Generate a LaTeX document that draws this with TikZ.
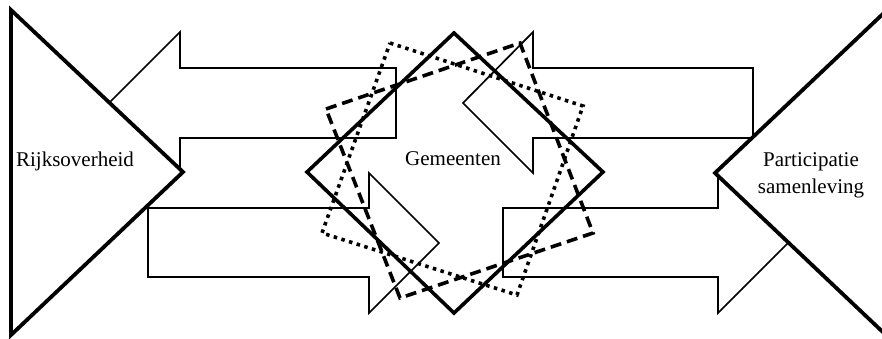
\documentclass[tikz,border=0pt]{standalone}
\usepackage{fontspec}
\setmainfont{Liberation Serif}
\usetikzlibrary{positioning}

\begin{document}
\begin{tikzpicture}[x=1pt, y=-1pt,
    blockarrow/.style={draw, line width=1.7pt, fill=white, line join=miter},
    wedge/.style={draw, line width=3.8pt, fill=white, line join=miter},
    frame/.style={draw, line width=3.6pt, line join=miter},
    dashframe/.style={frame, dash pattern=on 11pt off 6pt},
    dotframe/.style={frame, dash pattern=on 3.5pt off 4.5pt},
    lbl/.style={font=\fontsize{21}{27}\selectfont, align=center, inner sep=0pt}
]
\useasboundingbox (0,0) rectangle (882,338);
\clip (0,0) rectangle (882,338);
\draw[blockarrow] (396,68) -- (180,68) -- (180,32) -- (109,103)
    -- (180,174) -- (180,138) -- (396,138) -- cycle;
\draw[blockarrow] (148,208) -- (369,208) -- (369,173) -- (439,243)
    -- (369,313) -- (369,277) -- (148,277) -- cycle;
\draw[blockarrow] (753,68) -- (533,68) -- (533,32) -- (463,103)
    -- (533,173) -- (533,138) -- (753,138) -- cycle;
\draw[blockarrow] (503,208) -- (718,208) -- (718,173) -- (788,243)
    -- (718,313) -- (718,277) -- (503,277) -- cycle;
\draw[wedge] (11,10) -- (183,172) -- (11,335) -- cycle;
\draw[wedge] (887,10) -- (715,173) -- (887,336) -- cycle;
\draw[frame] (454,33) -- (603,172) -- (454,313) -- (307,172) -- cycle;
\draw[dashframe] (326,109) -- (520,43) -- (593,233) -- (400,298) -- cycle;
\draw[dotframe] (390,43) -- (583,106) -- (517,295) -- (322,233) -- cycle;
\node[lbl, anchor=base] (rijk) at (75,166) {Rijksoverheid};
\node[lbl, anchor=base] (gem) at (453,165) {Gemeenten};
\node[lbl] (part) at (811,175) {Participatie\\samenleving};
\end{tikzpicture}
\end{document}
